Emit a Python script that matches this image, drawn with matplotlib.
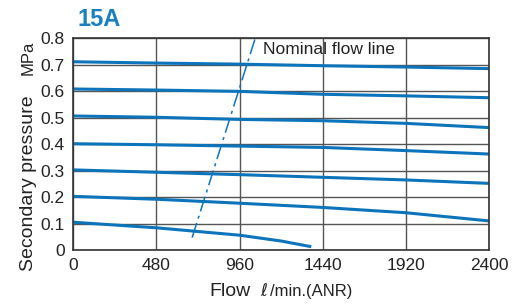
import matplotlib.pyplot as plt

plt.rcParams['font.family'] = ['Liberation Sans', 'DejaVu Sans']

# flow ℓ/min (ANR) and secondary pressure MPa for each set pressure
flow = [0, 480, 960, 1440, 1920, 2400]
p07 = [0.712, 0.707, 0.703, 0.697, 0.692, 0.686]
p06 = [0.609, 0.605, 0.600, 0.589, 0.583, 0.576]
p05 = [0.507, 0.502, 0.494, 0.489, 0.479, 0.463]
p04 = [0.402, 0.398, 0.393, 0.388, 0.376, 0.363]
p03 = [0.303, 0.294, 0.285, 0.275, 0.265, 0.252]
p02 = [0.203, 0.192, 0.177, 0.161, 0.141, 0.110]

flow01 = [0, 480, 960, 1200, 1374]
p01 = [0.105, 0.084, 0.056, 0.034, 0.0125]

nominal_flow = [686, 1050]
nominal_p = [0.047, 0.80]

xticks = [0, 480, 960, 1440, 1920, 2400]
yticks = [0, 0.1, 0.2, 0.3, 0.4, 0.5, 0.6, 0.7, 0.8]
ylabels = ['0', '0.1', '0.2', '0.3', '0.4', '0.5', '0.6', '0.7', '0.8']

blue = '#0b74bb'

fig = plt.figure(figsize=(5.13, 3.05), dpi=100)
ax = fig.add_axes([0.1429, 0.1803, 0.8103, 0.6935])

for p in [p07, p06, p05, p04, p03, p02]:
    ax.plot(flow, p, color=blue, lw=2.2, solid_capstyle='butt')
ax.plot(flow01, p01, color=blue, lw=2.2, solid_capstyle='butt')
ax.plot(nominal_flow, nominal_p, color=blue, lw=1.1, dashes=[10, 3, 2, 3])

ax.set_xlim(0, 2400)
ax.set_ylim(0, 0.8)
ax.set_xticks(xticks)
ax.set_yticks(yticks)
ax.set_yticklabels(ylabels)
ax.tick_params(length=0, labelsize=12.5, colors='#222222', pad=6)
ax.grid(True, color='#555555', lw=1.0)
ax.set_axisbelow(True)
for s in ax.spines.values():
    s.set_color('#333333')
    s.set_linewidth(1.2)

ax.text(1093, 0.757, 'Nominal flow line', fontsize=12.5, color='#222222', va='center')

fig.text(0.152, 0.935, '15A', fontsize=17, fontweight='bold', color='#1a7fc1', va='center')
fig.text(0.055, 0.40, 'Secondary pressure', fontsize=14, rotation=90, color='#222222', ha='center', va='center')
fig.text(0.055, 0.81, 'MPa', fontsize=12, rotation=90, color='#222222', ha='center', va='center')
fig.text(0.448, 0.045, 'Flow', fontsize=14, color='#222222', ha='center', va='center')
fig.text(0.508, 0.045, 'ℓ', fontsize=12, style='italic', color='#222222', va='center', family=['DejaVu Sans'])
fig.text(0.527, 0.045, '/min.(ANR)', fontsize=12, color='#222222', va='center')

fig.savefig('out.png', dpi=100)
